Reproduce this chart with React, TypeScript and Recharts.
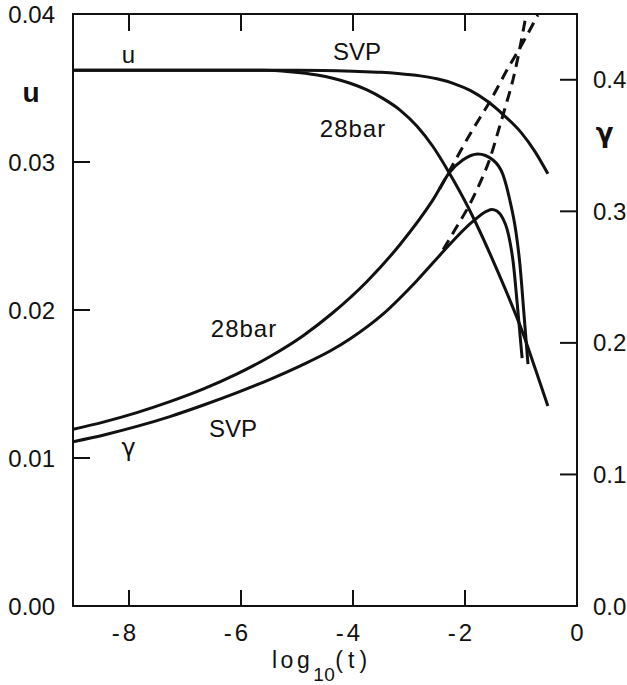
import React from 'react';
import { LineChart, Line, XAxis, YAxis } from 'recharts';

const FONT = '"Liberation Sans", Arial, sans-serif';
const GREEK = '"DejaVu Sans", sans-serif';

// x axis: log10(t)
const xTicks = [-8, -6, -4, -2, 0];
const topTicks = [-8, -6, -4, -2, 0];
const uTicks = [0, 0.01, 0.02, 0.03, 0.04];
const gTicks = [0, 0.1, 0.2, 0.3, 0.4];

// u, SVP
const uSvpT = [-9, -5, -4, -3.5, -3.2, -2.8, -2.5, -2.2, -1.9, -1.6, -1.3, -1.0, -0.75, -0.52];
const uSvpV = [0.0362, 0.0362, 0.03613, 0.03606, 0.03598, 0.03582, 0.03562, 0.0353, 0.03482, 0.0341, 0.03314, 0.032, 0.0307, 0.0292];

// u, 28 bar
const u28T = [-9, -6, -5.6, -5.13, -4.64, -4.36, -4.05, -3.75, -3.46, -3.16, -2.86, -2.57, -2.27, -1.96, -1.73, -1.5, -1.23, -0.98, -0.75, -0.52];
const u28V = [0.0362, 0.0362, 0.0362, 0.0361, 0.03588, 0.03566, 0.03532, 0.03487, 0.03428, 0.03351, 0.03243, 0.03103, 0.02919, 0.02706, 0.02527, 0.02334, 0.02095, 0.01858, 0.01608, 0.01351];

// gamma, 28 bar
const g28T = [-9, -8.46, -7.86, -7.27, -6.68, -6.07, -5.48, -4.89, -4.36, -3.75, -3.16, -2.57, -2.27, -2.04, -1.77, -1.5, -1.32, -1.2, -1.09, -1.02, -0.95, -0.875];
const g28V = [0.1343, 0.1398, 0.147, 0.1553, 0.1648, 0.1764, 0.1897, 0.2055, 0.2229, 0.2467, 0.2748, 0.3089, 0.3299, 0.339, 0.3436, 0.339, 0.3276, 0.3086, 0.2843, 0.26, 0.2235, 0.1839];

// gamma, SVP
const gSvpT = [-9, -8.43, -7.86, -7.27, -6.68, -6.07, -5.48, -4.95, -4.41, -4.05, -3.46, -2.86, -2.39, -2.14, -1.86, -1.61, -1.52, -1.43, -1.32, -1.25, -1.2, -1.14, -1.07, -0.98];
const gSvpV = [0.1249, 0.1302, 0.1365, 0.144, 0.1526, 0.1622, 0.1723, 0.1824, 0.1938, 0.2032, 0.2221, 0.2473, 0.2694, 0.2809, 0.2923, 0.3002, 0.3014, 0.3002, 0.2942, 0.2866, 0.2774, 0.2615, 0.2311, 0.1885];

// dashed continuations
const d28T = [-2.45, -1.875, -1.55, -1.23, -0.98, -0.7];
const d28V = [0.3171, 0.3612, 0.3839, 0.409, 0.4272, 0.4492];
const dSvpT = [-2.39, -2.18, -1.91, -1.7, -1.55, -1.41, -1.29, -1.14, -1.02, -0.91];
const dSvpV = [0.2709, 0.286, 0.3058, 0.3247, 0.3407, 0.3604, 0.3778, 0.4006, 0.4241, 0.4492];

const zip = (ts: number[], vs: number[]) => ts.map((t, i) => ({ t, v: vs[i] }));

const uSvp = zip(uSvpT, uSvpV);
const u28 = zip(u28T, u28V);
const g28 = zip(g28T, g28V);
const gSvp = zip(gSvpT, gSvpV);
const d28 = zip(d28T, d28V);
const dSvp = zip(dSvpT, dSvpV);

const INK = '#111';

const BottomTick = (props: any) => {
  const { x, y, payload } = props;
  const v = payload.value as number;
  const neg = v < 0;
  return (
    <g>
      {v > -9 && v < 0 && <line x1={x} y1={y} x2={x} y2={y - 16} stroke={INK} strokeWidth={2} />}
      <text x={neg ? x + 7 : x} y={y + 35} textAnchor={neg ? 'end' : 'middle'} fontSize={24} fontFamily={FONT} fill={INK}>
        {neg ? (
          <>
            <tspan>-</tspan>
            <tspan dx={3}>{Math.abs(v)}</tspan>
          </>
        ) : (
          String(v)
        )}
      </text>
    </g>
  );
};

const TopTick = (props: any) => {
  const { x, y, payload } = props;
  const v = payload.value as number;
  if (!(v > -9 && v < 0)) return <g />;
  return <line x1={x} y1={y} x2={x} y2={y + 17} stroke={INK} strokeWidth={2} />;
};

const LeftTick = (props: any) => {
  const { x, y, payload } = props;
  const v = payload.value as number;
  return (
    <g>
      {v > 0 && v < 0.04 && <line x1={x} y1={y} x2={x + 17} y2={y} stroke={INK} strokeWidth={2} />}
      <text x={x - 18} y={y + 8.6} textAnchor="end" fontSize={24} fontFamily={FONT} fill={INK}>
        {v.toFixed(2)}
      </text>
    </g>
  );
};

const RightTick = (props: any) => {
  const { x, y, payload } = props;
  const v = payload.value as number;
  return (
    <g>
      {v > 0 && <line x1={x} y1={y} x2={x - 17} y2={y} stroke={INK} strokeWidth={2} />}
      <text x={x + 16} y={y + 8.6} textAnchor="start" fontSize={24} fontFamily={FONT} fill={INK}>
        {v.toFixed(1)}
      </text>
    </g>
  );
};

const axisLine = { stroke: INK, strokeWidth: 2, strokeLinecap: 'square' as const };

export default function App() {
  const lineProps = {
    dataKey: 'v',
    xAxisId: 'b',
    type: 'monotone' as const,
    stroke: INK,
    strokeWidth: 3,
    dot: false,
    activeDot: false,
    isAnimationActive: false,
  };
  return (
    <div style={{ position: 'absolute', left: 0, top: 0, width: 627, height: 685, background: '#fff' }}>
      <LineChart width={627} height={685} margin={{ top: 0, right: 0, left: 0, bottom: 0 }}>
        <XAxis
          xAxisId="b"
          dataKey="t"
          type="number"
          domain={[-9, 0]}
          ticks={xTicks}
          allowDataOverflow
          interval={0}
          height={79}
          tickSize={0}
          tickMargin={0}
          tickLine={false}
          axisLine={axisLine}
          tick={<BottomTick />}
        />
        <XAxis
          xAxisId="top"
          orientation="top"
          dataKey="t"
          type="number"
          domain={[-9, 0]}
          ticks={topTicks}
          allowDataOverflow
          interval={0}
          height={14}
          tickSize={0}
          tickMargin={0}
          tickLine={false}
          axisLine={axisLine}
          tick={<TopTick />}
        />
        <YAxis
          yAxisId="u"
          orientation="left"
          type="number"
          domain={[0, 0.04]}
          ticks={uTicks}
          allowDataOverflow
          interval={0}
          width={73}
          tickSize={0}
          tickMargin={0}
          tickLine={false}
          axisLine={axisLine}
          tick={<LeftTick />}
        />
        <YAxis
          yAxisId="g"
          orientation="right"
          type="number"
          domain={[0, 0.45]}
          ticks={gTicks}
          allowDataOverflow
          interval={0}
          width={50}
          tickSize={0}
          tickMargin={0}
          tickLine={false}
          axisLine={axisLine}
          tick={<RightTick />}
        />
        <Line {...lineProps} data={uSvp} yAxisId="u" />
        <Line {...lineProps} data={u28} yAxisId="u" />
        <Line {...lineProps} data={g28} yAxisId="g" />
        <Line {...lineProps} data={gSvp} yAxisId="g" />
        <Line {...lineProps} data={d28} yAxisId="g" strokeDasharray="11 7" />
        <Line {...lineProps} data={dSvp} yAxisId="g" strokeDasharray="11 7" />
      </LineChart>
      <svg
        width={627}
        height={685}
        style={{ position: 'absolute', left: 0, top: 0, pointerEvents: 'none' }}
        fontFamily={FONT}
        fill={INK}
      >
        <text x={31} y={102} fontSize={28} fontWeight="bold" textAnchor="middle">u</text>
        <text x={604.5} y={142} fontSize={26} fontWeight="bold" fontFamily={GREEK} textAnchor="middle">γ</text>
        <text x={128.5} y={63} fontSize={24} textAnchor="middle">u</text>
        <text x={357} y={60} fontSize={24} textAnchor="middle">SVP</text>
        <text x={353} y={137} fontSize={24} textAnchor="middle" letterSpacing={1}>28bar</text>
        <text x={244} y={337} fontSize={24} textAnchor="middle" letterSpacing={1}>28bar</text>
        <text x={233} y={437} fontSize={24} textAnchor="middle">SVP</text>
        <text x={128.5} y={456} fontSize={24} fontFamily={GREEK} textAnchor="middle">γ</text>
        <text x={272} y={668} fontSize={23} letterSpacing={3.5}>
          log
          <tspan fontSize={19} dy={13} letterSpacing={0.5}>10</tspan>
          <tspan dy={-13} letterSpacing={5}>(t)</tspan>
        </text>
      </svg>
    </div>
  );
}
